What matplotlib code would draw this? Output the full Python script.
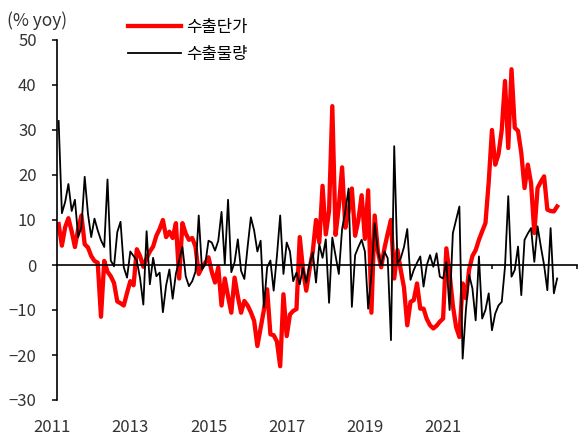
import matplotlib
matplotlib.use('Agg')
import matplotlib.pyplot as plt
import numpy as np

plt.rcParams['font.family'] = ['Noto Sans CJK KR', 'DejaVu Sans']

years = ['2011', '2013', '2015', '2017', '2019', '2021']
series_names = ['수출단가', '수출물량']

# monthly yoy %, Jan 2011 onward
export_price = [
    9.1, 4.3, 8.4, 10.4, 7.5, 4, 8, 11, 4.6, 3.9,
    2, 0.9, 0.5, -11.5, 0.9, -1.5, -2.5, -4, -8.1, -8.5,
    -9, -6.2, -3.6, -4.5, 3.5, 2, -0.4, 1.5, 3, 4.1,
    6.5, 8, 10, 6.2, 7.4, 6, 9.3, -3, 9.3, 7,
    5.6, 6, 4.1, -2, -0.5, 0.5, 1.7, -1.5, -3.9, -0.5,
    -9, -3, -7, -10.6, -2.8, -7, -10.6, -8, -9, -10.5,
    -12.4, -18, -14, -10, -5.4, -15.4, -15.6, -17, -22.5, -6.5,
    -15.8, -11, -10.2, -9.8, 6.2, -1, -5.7, -1, 3, 10,
    5, 17.6, 6.8, 12, 35.3, 6.7, 13, 21.7, 8.3, 12,
    17, 6.5, 10, 15.5, 5.8, 16.6, -10.6, 11, 3, -0.5,
    3.7, 7, 10, -3, 3.3, -1.1, -5, -13.4, -8.2, -7.8,
    -4.1, -9.7, -9.7, -12, -13.4, -14.1, -13.5, -12.6, -11.9, 3.7,
    -2, -9, -13.8, -16, -4.1, -7.4, -1, 2, 3.3, 5.6,
    7.5, 9.3, 18.4, 30, 22.3, 24.6, 30, 40.9, 26, 43.5,
    30.5, 29.8, 24.9, 17.1, 22.3, 18.2, 7.1, 17.1, 18.5, 19.7,
    12.3, 12, 11.9, 13,
]

export_volume = [
    32, 11.5, 14, 18, 12, 14.5, 6.2, 8.4, 19.6, 11.4,
    6.2, 10.3, 7.7, 5.5, 4, 19, 1, -0.3, 7.3, 9.6,
    -0.5, -2.8, 3, 2, 1, -3, -8.8, 7.5, -4.3, 1.6,
    -2.5, -1.7, -10.5, -4.5, -1, -7.5, -1.9, 1, 4, -2.5,
    -4.7, -3.6, -1.5, 11, -1, 0.2, 5.4, 5, 3.2, 5.4,
    11.8, 0.2, 14.5, -1.6, 0.6, 5.7, -1.3, -3.1, 4, 10.6,
    7.7, 3, 5.4, -9.4, -0.5, 1, -5.7, 2, 11, -2,
    5, 3, -3.6, -1.7, -4.3, -0.6, -3.9, 0.1, 2.8, -3.9,
    4.6, 1.6, 5.7, -8.4, 6.1, 2, -2, 8, 12, 17,
    -9.3, 2.2, 4, 5.6, 3, -9.7, -2, 9.3, 3, 0,
    3, 1.5, -16.7, 26.4, 0.4, 1.5, 4, 8, -3.3, -1.1,
    0.5, 1.9, -4.8, 0, 2.2, -0.4, 2.6, -2.6, -3, 0.7,
    -10, 7.1, 10, 13, -20.8, -10, -2.2, -5.2, -12.3, 1.9,
    -11.9, -10, -6.3, -14.5, -10.8, -9, -8.2, -0.4, 15.3, -2.6,
    -1.1, 4.1, -6.7, 5.6, 7, 8.2, 0.7, 8.6, 4.1, 0,
    -5.6, 8.2, -6.3, -3,
]

fig = plt.figure(figsize=(5.82, 4.37), dpi=100)
ax = fig.add_axes([57 / 582, 37 / 437, 520 / 582, 360 / 437])

x = np.arange(len(export_price))
ax.plot(x, export_price, color='#FF0000', lw=3.1, solid_joinstyle='round',
        label=series_names[0], zorder=2)
ax.plot(np.arange(len(export_volume)), export_volume, color='black', lw=1.3,
        label=series_names[1], zorder=3)

ax.set_xlim(-0.5, 159.1)
ax.set_ylim(-30, 50)
ax.set_yticks(range(-30, 51, 10))

ax.spines['top'].set_visible(False)
ax.spines['right'].set_visible(False)
ax.spines['bottom'].set_position(('data', 0))
ax.spines['bottom'].set_linewidth(1.2)
ax.spines['left'].set_linewidth(1.2)

ax.set_xticks([133, 159.1])
ax.set_xticklabels([])
ax.tick_params(axis='x', direction='out', length=3, width=1.1)
ax.tick_params(axis='y', direction='out', length=3.6, width=1.1,
               labelsize=12, pad=11, labelcolor='#333333')

for yr in years:
    pos = (int(yr) - 2011) * 12 - 2
    ax.annotate(yr, xy=(pos, 0), xycoords=('data', 'axes fraction'),
                xytext=(0, -19.5), textcoords='offset points',
                ha='center', va='center', fontsize=12, color='#333333',
                annotation_clip=False)

fig.text(7 / 582, 1 - 21 / 437, '(% yoy)', ha='left', va='center',
         fontsize=12.5, color='#333333')

ax.legend(loc='upper left', bbox_to_anchor=(128 / 582, 1 - 19 / 437),
          bbox_transform=fig.transFigure, frameon=False, borderpad=0,
          borderaxespad=0, handlelength=3.2, handletextpad=0.3,
          labelspacing=0.6, fontsize=12)

fig.savefig('out.png', dpi=100)
